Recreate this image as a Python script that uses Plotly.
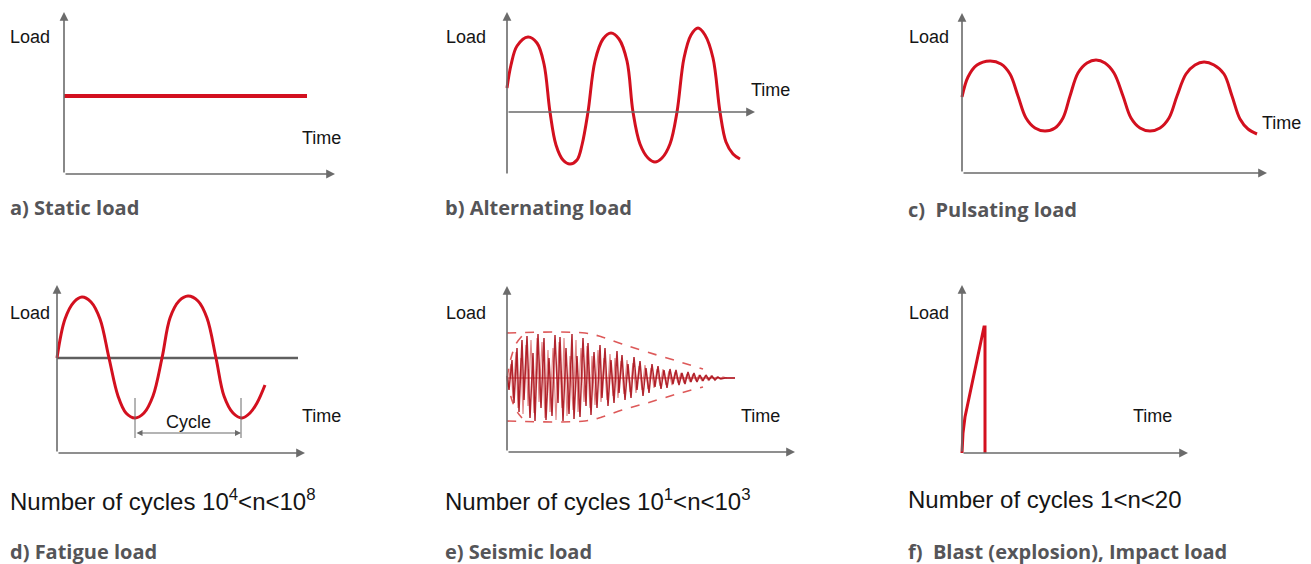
import plotly.graph_objects as go

W, H = 1311, 564

# ---------------- data (pixel-like units) ----------------
# a) static load
a_time = [0, 243]
a_load = [78, 78]

# b) alternating load
b_time = [0, 4, 10, 21, 30, 37, 43, 49, 56, 63, 70, 75, 81, 88, 96, 104, 112, 120, 126,
          133, 141, 148, 155, 163, 170, 177, 184, 191, 198, 206, 213, 219, 226, 233]
b_load = [24, 47, 66, 75, 69, 48, 0, -33, -48, -52, -48, -33, 0, 51, 73, 79, 73, 51, 0,
          -32, -46, -50, -46, -32, 0, 54, 77, 84, 77, 54, 0, -30, -42, -47]

# c) pulsating load
c_time = [0, 6, 15, 28, 39, 48, 56, 64, 73, 83, 93, 101, 108, 116, 125, 134, 143, 152, 161,
          169, 178, 188, 198, 207, 215, 224, 233, 242, 252, 262, 270, 278, 286, 295]
c_load = [76, 96, 108, 112, 109, 99, 77, 55, 45, 42, 45, 55, 77, 100, 110, 113, 110, 100, 77,
          55, 45, 42, 45, 55, 77, 99, 108, 111, 108, 99, 77, 54, 44, 39]

# d) fatigue load
d_time = [0, 8, 17, 25, 34, 43, 52, 61, 69, 78, 87, 96, 105, 113, 122, 131, 141, 150, 159,
          167, 176, 185, 193, 200, 208]
d_load = [0, 39, 56, 61, 56, 39, 0, -38, -55, -60, -55, -38, 0, 40, 57, 62, 57, 40, 0,
          -38, -55, -60, -55, -45, -27]
d_cycle = [78, 184]

# e) seismic load
e_time = [0, 2, 5, 7, 10, 12, 15, 17, 20, 23, 26, 28, 31, 34, 37, 39, 42, 45, 48, 51, 53, 56,
          59, 62, 65, 67, 70, 73, 76, 79, 81, 84, 87, 90, 93, 95, 98, 101, 104, 107, 110, 112,
          115, 118, 121, 124, 127, 130, 133, 136, 139, 142, 145, 148, 151, 154, 157, 160, 163,
          166, 169, 172, 175, 178, 181, 184, 187, 190, 193, 196, 199, 202, 205, 208, 211, 214,
          218, 228]
e_load = [2, -12, 18, -25, 30, -34, 38, -22, 42, -40, 25, -43, 44, -30, 40, -42, 20, -38, 43,
          -25, 41, -43, 30, -36, 44, -41, 22, -39, 40, -28, 35, -37, 26, -30, 33, -20, 30, -28,
          18, -25, 27, -15, 23, -22, 14, -20, 21, -12, 17, -18, 10, -15, 14, -9, 12, -11, 8,
          -10, 9, -6, 8, -7, 5, -6, 6, -4, 5, -4, 3, -3, 3, -2, 2, -2, 1, -1, 0, 0]
e2_time = [1, 4, 6, 9, 11, 14, 16, 19, 21, 24, 27, 30, 32, 35, 38, 41, 43, 46, 49, 52,
           55, 57, 60, 63, 66, 69, 71, 74, 77, 80, 83, 85, 88, 91, 94, 97, 100, 103, 106, 108,
           111, 114, 117, 120, 123, 126, 129, 132, 135, 138, 141, 144, 147, 150, 153, 156, 159,
           162, 165, 168, 171, 174, 177, 180, 183, 186, 189, 192, 195, 198, 201, 204, 207, 210,
           213, 216, 220]
e2_load = [-6, 14, -20, 26, -30, 20, -36, 33, -28, 38, -35, 40, -24, 36, -40, 28, -34, 30, -42,
           36, -30, 40, -38, 22, -32, 38, -34, 30, -24, 32, -30, 22, -27, 28, -24, 20, -22, 24,
           -18, 20, -20, 17, -16, 18, -14, 15, -15, 12, -12, 13, -11, 10, -10, 9, -8, 9, -7, 7,
           -7, 6, -5, 5, -5, 4, -4, 4, -3, 3, -3, 2, -2, 2, -1, 1, -1, 1, 0]
e_env_time = [0, 78, 95, 115, 140, 170, 196]
e_env_top = [45, 45, 41, 34, 26, 17, 9]
e_env_bot = [-43, -43, -39, -32, -25, -16, -9]
e_rise_time = [0, 4, 9, 15]
e_rise_top = [0, 20, 34, 42]
e_rise_bot = [0, -19, -32, -40]

# f) blast / impact load
f_time = [0, 1, 3, 22, 23, 23]
f_load = [0, 20, 36, 126, 126, 0]

# text
captions = ["a) Static load", "b) Alternating load", "c)\u00a0 Pulsating load",
            "d) Fatigue load", "e) Seismic load", "f)\u00a0 Blast (explosion), Impact load"]
cycles_text = ["Number of cycles 10<sup>4</sup>&lt;n&lt;10<sup>8</sup>",
               "Number of cycles 10<sup>1</sup>&lt;n&lt;10<sup>3</sup>",
               "Number of cycles 1&lt;n&lt;20"]

# ---------------- styles ----------------
RED = "#d3101f"
DARKRED = "rgba(170,14,24,0.9)"
LIGHTRED = "rgba(205,60,60,0.6)"
ENV = "rgba(215,60,60,0.85)"
AXC = "#6b6b6b"
TXT = "#151515"
CAP = "#555558"
FONT = "Liberation Sans, Arial, sans-serif"
CAPFONT = "Open Sans, Liberation Sans, sans-serif"

fig = go.Figure()

# panel geometry: origin (px), x-extent, y-extent (down, up) in data units == px
panels = {
    1: dict(ox=64, oy=174, L=271, D=0, U=162),
    2: dict(ox=507, oy=112, L=248, D=63, U=100),
    3: dict(ox=962, oy=173, L=305, D=0, U=160),
    4: dict(ox=57, oy=358, L=248, D=95, U=73),
    5: dict(ox=507, oy=378, L=288, D=74, U=92),
    6: dict(ox=962, oy=453, L=226, D=0, U=168),
}
PAD = 6
layout_axes = {}
for i, p in panels.items():
    xmin, xmax = -PAD, p["L"] + PAD
    ymin, ymax = -p["D"] - PAD, p["U"] + PAD
    xn = "xaxis" if i == 1 else f"xaxis{i}"
    yn = "yaxis" if i == 1 else f"yaxis{i}"
    layout_axes[xn] = dict(domain=[(p["ox"] + xmin) / W, (p["ox"] + xmax) / W],
                           range=[xmin, xmax], visible=False, anchor=("y" if i == 1 else f"y{i}"))
    layout_axes[yn] = dict(domain=[1 - (p["oy"] - ymin) / H, 1 - (p["oy"] - ymax) / H],
                           range=[ymin, ymax], visible=False, anchor=("x" if i == 1 else f"x{i}"))


def ax(i):
    return ("x" if i == 1 else f"x{i}"), ("y" if i == 1 else f"y{i}")


annotations = []
# axis arrows
for i, p in panels.items():
    xr, yr = ax(i)
    ybase = 0 if i == 2 else -p["D"]
    annotations.append(dict(x=p["L"], y=ybase, ax=0, ay=ybase, xref=xr, yref=yr, axref=xr, ayref=yr,
                            text="", showarrow=True, arrowhead=2, arrowsize=1.1, arrowwidth=1.6,
                            arrowcolor=AXC))
    annotations.append(dict(x=0, y=p["U"], ax=0, ay=-p["D"], xref=xr, yref=yr, axref=xr, ayref=yr,
                            text="", showarrow=True, arrowhead=2, arrowsize=1.1, arrowwidth=1.6,
                            arrowcolor=AXC))


def line(i, x, y, color=RED, width=3, dash=None, shape="spline", smooth=1.0):
    xr, yr = ax(i)
    fig.add_trace(go.Scatter(x=x, y=y, xaxis=xr, yaxis=yr, mode="lines",
                             line=dict(color=color, width=width, dash=dash, shape=shape,
                                       smoothing=smooth if shape == "spline" else None),
                             hoverinfo="skip", showlegend=False))


# a
line(1, a_time, a_load, width=4, shape="linear")
# b
line(2, b_time, b_load, width=3)
# c
line(3, c_time, c_load, width=3)
# d
line(4, [0, 241], [0, 0], color="#5f5f5f", width=2.5, shape="linear")
line(4, d_time, d_load, width=3)
for cx in d_cycle:
    line(4, [cx, cx], [-40, -80], color=AXC, width=1, shape="linear")
xr4, yr4 = ax(4)
annotations.append(dict(x=d_cycle[1], y=-75, ax=d_cycle[0], ay=-75, xref=xr4, yref=yr4, axref=xr4,
                        ayref=yr4, text="", showarrow=True, arrowhead=2, arrowside="end+start",
                        arrowsize=1, arrowwidth=1.2, arrowcolor=AXC))
annotations.append(dict(x=(d_cycle[0] + d_cycle[1]) / 2, y=-64, xref=xr4, yref=yr4, text="Cycle",
                        showarrow=False, font=dict(family=FONT, size=18, color=TXT)))
# e
line(5, [0, 228], [0, 0], color="rgba(200,30,40,0.9)", width=1.2, shape="linear")
line(5, e_env_time, e_env_top, color=ENV, width=1.6, dash="dash")
line(5, e_env_time, e_env_bot, color=ENV, width=1.6, dash="dash")
line(5, e_rise_time, e_rise_top, color=ENV, width=1.6, dash="dash")
line(5, e_rise_time, e_rise_bot, color=ENV, width=1.6, dash="dash")
line(5, e2_time, e2_load, color=LIGHTRED, width=1.2, shape="linear")
line(5, e_time, e_load, color=DARKRED, width=1.5, shape="linear")
# f
line(6, f_time, f_load, width=3, shape="linear")


# ---------------- texts ----------------
def px_text(x, y, text, size=18, color=TXT, family=FONT, weight=None):
    f = dict(family=family, size=size, color=color)
    if weight:
        f["weight"] = weight
    annotations.append(dict(x=x / W, y=1 - y / H, xref="paper", yref="paper", xanchor="left",
                            yanchor="middle", text=text, showarrow=False, font=f))


for (x, y) in [(8, 37), (444, 37), (907, 37), (8, 313), (444, 313), (907, 313)]:
    px_text(x, y, "Load")
for (x, y) in [(300, 138), (749, 90), (1260, 123), (300, 416), (739, 416), (1131, 416)]:
    px_text(x, y, "Time")
for (x, y), t in zip([(8, 500), (443, 500), (906, 500)], cycles_text):
    px_text(x, y, t, size=24)
for (x, y), t in zip([(8, 207), (443, 207), (906, 209), (8, 551), (443, 551), (906, 551)], captions):
    px_text(x, y, t, size=20, color=CAP, family=CAPFONT, weight=700)

fig.update_layout(width=W, height=H, margin=dict(l=0, r=0, t=0, b=0),
                  paper_bgcolor="white", plot_bgcolor="rgba(0,0,0,0)",
                  annotations=annotations, showlegend=False, **layout_axes)

fig.write_html("out.html", config={"displayModeBar": False},
               post_script="document.body.style.margin='0px';document.body.style.overflow='hidden';")
